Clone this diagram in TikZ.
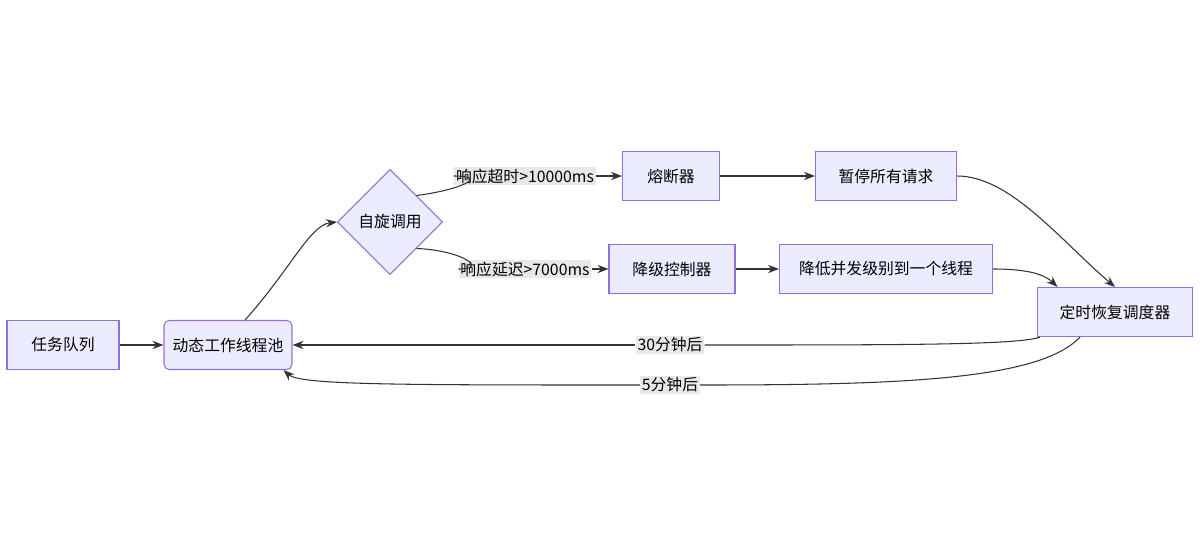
\documentclass[tikz,border=0pt]{standalone}
\usepackage{fontspec}
\setmainfont{Noto Sans CJK SC}
\usetikzlibrary{shapes.geometric,arrows.meta}
\definecolor{boxfill}{HTML}{ECECFF}
\definecolor{boxline}{HTML}{9370DB}
\definecolor{edge}{HTML}{333333}
\tikzset{
  box/.style={draw=boxline, fill=boxfill, line width=0.6pt, minimum height=0.98cm, font=\small},
  rbox/.style={box, rounded corners=3pt},
  choice/.style={draw=boxline, fill=boxfill, line width=0.6pt, diamond, minimum width=2.1cm, minimum height=2.1cm, inner sep=0pt, font=\small},
  tag/.style={fill=gray!18, inner sep=1pt, font=\small},
  flow/.style={draw=edge, line width=0.6pt, -{Stealth[length=2.2mm]}}
}
\begin{document}
\begin{tikzpicture}[x=0.02cm, y=-0.02cm]
  \useasboundingbox (0,0) rectangle (1200,548);

  \node[box, minimum width=2.24cm] (queue) at (63,345) {任务队列};
  \node[rbox, minimum width=2.56cm] (pool) at (228,345) {动态工作线程池};
  \node[choice] (spin) at (390,222) {自旋调用};
  \node[box, minimum width=1.94cm] (breaker) at (671,176) {熔断器};
  \node[box, minimum width=2.82cm] (pause) at (886,176) {暂停所有请求};
  \node[box, minimum width=2.52cm] (degrade) at (672,269) {降级控制器};
  \node[box, minimum width=4.26cm] (reduce) at (886,269) {降低并发级别到一个线程};
  \node[box, minimum width=3.10cm] (timer) at (1115,312) {定时恢复调度器};

  \node[tag] (t1) at (525,176) {响应超时>10000ms};
  \node[tag] (t2) at (525,269) {响应延迟>7000ms};
  \node[tag] (t3) at (670,345) {30分钟后};
  \node[tag] (t4) at (670,385) {5分钟后};

  \draw[flow] (queue) -- (pool);
  \draw[flow] (pool.north east) ++(-0.95cm,0) .. controls (290,270) and (310,225) .. (spin.west);
  \draw[draw=edge, line width=0.6pt] (spin.north east) .. controls (460,190) and (490,176) .. (t1.west);
  \draw[flow] (t1.east) -- (breaker);
  \draw[draw=edge, line width=0.6pt] (spin.south east) .. controls (460,250) and (490,269) .. (t2.west);
  \draw[flow] (t2.east) -- (degrade);
  \draw[flow] (breaker) -- (pause);
  \draw[flow] (degrade) -- (reduce);
  \draw[flow] (pause.east) .. controls (1010,176) and (1060,240) .. (timer.north);
  \draw[flow] (reduce.east) .. controls (1030,269) and (1045,275) .. ([xshift=-1.15cm]timer.north);
  \draw[draw=edge, line width=0.6pt] ([xshift=-1.5cm]timer.south) .. controls (1020,345) and (900,345) .. (t3.east);
  \draw[flow] (t3.west) -- (pool.east);
  \draw[draw=edge, line width=0.6pt] ([xshift=-0.7cm]timer.south) .. controls (1040,380) and (900,385) .. (t4.east);
  \draw[flow] (t4.west) .. controls (400,385) and (300,385) .. ([xshift=-0.18cm]pool.south east);
\end{tikzpicture}
\end{document}
